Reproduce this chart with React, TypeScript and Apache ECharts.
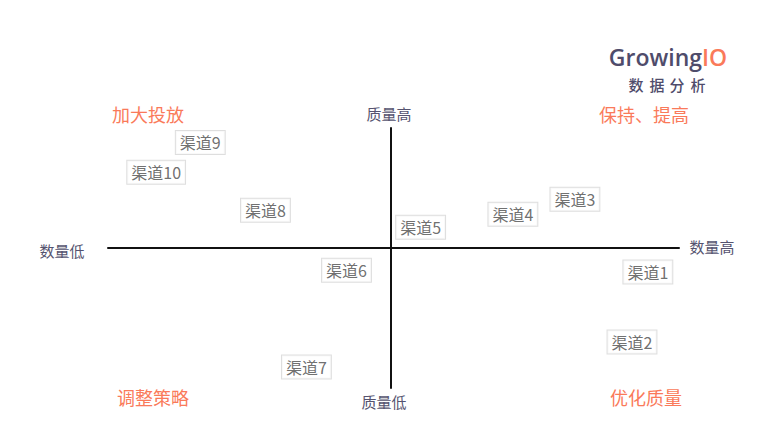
import React, { useEffect, useRef } from "react";
import * as echarts from "echarts";

const channelNames = ["渠道1", "渠道2", "渠道3", "渠道4", "渠道5", "渠道6", "渠道7", "渠道8", "渠道9", "渠道10"];
const quantityValues = [89.2, 83.7, 63.9, 42.4, 10.4, -15.3, -29.2, -43.4, -66, -81.3];
const qualityValues = [-17.1, -67.1, 35, 24.3, 15, -15.7, -85, 27.1, 75.7, 54.3];
const quadrantLabels = ["加大投放", "保持、提高", "调整策略", "优化质量"];
const axisEndLabels = ["数量低", "数量高", "质量高", "质量低"];
const logoChars = ["数", "据", "分", "析"];

const FONT = '"Noto Sans CJK SC", "Noto Sans", sans-serif';

export default function App() {
  const ref = useRef<HTMLDivElement>(null);
  useEffect(() => {
    if (!ref.current) return;
    const chart = echarts.init(ref.current, null, { renderer: "svg" });
    const data = channelNames.map((n, i) => ({ name: n, value: [quantityValues[i], qualityValues[i]] }));
    const axisColor = "#55536f";
    const orange = "#fa7a5a";
    const logoX = [636, 657, 677, 698];
    const lbl = (t: string, x: number, y: number, size: number, fill: string) => ({
      type: "text",
      x,
      y,
      style: { text: t, fontFamily: FONT, fontSize: size, fill, align: "center", verticalAlign: "middle" },
    });
    chart.setOption({
      animation: false,
      backgroundColor: "#ffffff",
      grid: { left: 108, right: 94, top: 128, bottom: 50 },
      xAxis: {
        type: "value",
        min: -98,
        max: 100,
        axisLine: { show: true, onZero: true, lineStyle: { color: "#111", width: 2 } },
        axisTick: { show: false },
        axisLabel: { show: false },
        splitLine: { show: false },
      },
      yAxis: {
        type: "value",
        min: -100,
        max: 86,
        axisLine: { show: true, onZero: true, lineStyle: { color: "#111", width: 2 } },
        axisTick: { show: false },
        axisLabel: { show: false },
        splitLine: { show: false },
      },
      series: [
        {
          type: "scatter",
          symbolSize: 0,
          data,
          label: {
            show: true,
            position: "inside",
            formatter: "{b}",
            fontFamily: FONT,
            fontSize: 16,
            lineHeight: 16,
            color: "#4a4a4a",
            backgroundColor: "#ffffff",
            borderColor: "#d6d6d6",
            borderWidth: 1,
            padding: [4, 4, 3, 4],
          },
        },
      ],
      graphic: [
        {
          type: "text",
          x: 668,
          y: 57,
          style: {
            text: "{a|Growing}{b|IO}",
            align: "center",
            verticalAlign: "middle",
            rich: {
              a: { fontFamily: '"Open Sans", sans-serif', fontSize: 23, fontWeight: 600, fill: "#4f4c6b", color: "#4f4c6b" },
              b: { fontFamily: '"Open Sans", sans-serif', fontSize: 23, fontWeight: 600, fill: orange, color: orange },
            },
          },
        },
        ...logoChars.map((c, i) => ({
          type: "text",
          x: logoX[i],
          y: 84,
          style: { text: c, fontFamily: FONT, fontSize: 15, fontWeight: 500, fill: "#4f4c6b", align: "center", verticalAlign: "middle" },
        })),
        lbl(axisEndLabels[0], 62, 250, 15, axisColor),
        lbl(axisEndLabels[1], 712, 246, 15, axisColor),
        lbl(axisEndLabels[2], 389, 113, 15, axisColor),
        lbl(axisEndLabels[3], 384, 401, 15, axisColor),
        lbl(quadrantLabels[0], 148, 114, 18, orange),
        lbl(quadrantLabels[1], 644, 114, 18, orange),
        lbl(quadrantLabels[2], 153, 397, 18, orange),
        lbl(quadrantLabels[3], 646, 397, 18, orange),
      ],
    });
    return () => chart.dispose();
  }, []);
  return <div ref={ref} style={{ width: 773, height: 438, position: "absolute", left: 0, top: 0 }} />;
}
